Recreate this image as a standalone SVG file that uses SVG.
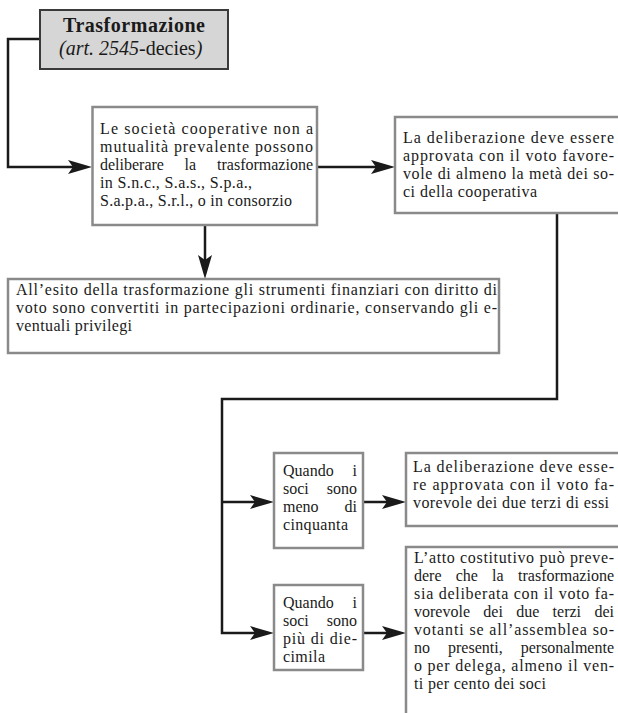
<svg xmlns="http://www.w3.org/2000/svg" width="618" height="713" viewBox="0 0 618 713">
<style>
text{font-family:"Liberation Serif","Times New Roman",serif;font-size:16px;fill:#1a1a1a}
.box{fill:#fff;stroke:#8a8a8a;stroke-width:2.5}
.title{fill:#d6d6d6;stroke:#3a3a3a;stroke-width:2}
.ttl{font-size:20px}
.b{font-weight:bold}
.i{font-style:italic}
.e{text-anchor:end}
.c{fill:none;stroke:#1a1a1a;stroke-width:2.5}
</style>
<defs>
<marker id="ah" markerWidth="24" markerHeight="14" refX="14" refY="7" orient="auto" markerUnits="userSpaceOnUse">
<path d="M0,0 L24,7 L0,14 L5,7 Z" fill="#1a1a1a"/>
</marker>
</defs>
<rect width="618" height="713" fill="#fff"/>

<g id="connectors">
<polyline class="c" points="40,39 8,39 8,167 82,167" marker-end="url(#ah)"/>
<line class="c" x1="317" y1="167" x2="385" y2="167" marker-end="url(#ah)"/>
<line class="c" x1="205" y1="225" x2="205" y2="269" marker-end="url(#ah)"/>
<polyline class="c" points="557,213 557,399 222,399 222,633 264,633" marker-end="url(#ah)"/>
<line class="c" x1="222" y1="502" x2="264" y2="502" marker-end="url(#ah)"/>
<line class="c" x1="363" y1="502" x2="396" y2="502" marker-end="url(#ah)"/>
<line class="c" x1="363" y1="633" x2="396" y2="633" marker-end="url(#ah)"/>
</g>

<g id="title">
<rect class="title" x="40" y="10" width="188" height="59"/>
<text class="ttl"><tspan class="b" x="63" y="32" textLength="142" lengthAdjust="spacing">Trasformazione</tspan><tspan class="i" x="59" y="55">(art. 2545-</tspan><tspan>decies</tspan><tspan class="i">)</tspan></text>
</g>

<g id="n1">
<rect class="box" x="92.5" y="107" width="224.5" height="118"/>
<text><tspan x="100" y="134" textLength="213" lengthAdjust="spacing">Le società cooperative non a</tspan><tspan x="100" y="152" textLength="213" lengthAdjust="spacing">mutualità prevalente possono</tspan><tspan x="100" y="170">deliberare</tspan><tspan x="184.5">la</tspan><tspan class="e" x="313">trasformazione</tspan><tspan x="100" y="188" textLength="152" lengthAdjust="spacing">in S.n.c., S.a.s., S.p.a.,</tspan><tspan x="100" y="206" textLength="192" lengthAdjust="spacing">S.a.p.a., S.r.l., o in consorzio</tspan></text>
</g>

<g id="n2">
<rect class="box" x="395" y="117" width="240" height="96"/>
<text><tspan x="403" y="143" textLength="211" lengthAdjust="spacing">La deliberazione deve essere</tspan><tspan x="403" y="161" textLength="211" lengthAdjust="spacing">approvata con il voto favore-</tspan><tspan x="403" y="179" textLength="211" lengthAdjust="spacing">vole di almeno la metà dei so-</tspan><tspan x="403" y="197" textLength="134" lengthAdjust="spacing">ci della cooperativa</tspan></text>
</g>

<g id="n3">
<rect class="box" x="8" y="279" width="491" height="74"/>
<text><tspan x="16" y="295" textLength="481" lengthAdjust="spacing">All’esito della trasformazione gli strumenti finanziari con diritto di</tspan><tspan x="16" y="313" textLength="481" lengthAdjust="spacing">voto sono convertiti in partecipazioni ordinarie, conservando gli e-</tspan><tspan x="16" y="331" textLength="116" lengthAdjust="spacing">ventuali privilegi</tspan></text>
</g>

<g id="n4">
<rect class="box" x="274" y="453" width="89" height="95"/>
<text><tspan x="283" y="476">Quando</tspan><tspan class="e" x="357">i</tspan><tspan x="283" y="494">soci</tspan><tspan class="e" x="357">sono</tspan><tspan x="283" y="512">meno</tspan><tspan class="e" x="357">di</tspan><tspan x="283" y="530" textLength="65" lengthAdjust="spacing">cinquanta</tspan></text>
</g>

<g id="n5">
<rect class="box" x="406" y="453" width="230" height="73"/>
<text><tspan x="413" y="472" textLength="201" lengthAdjust="spacing">La deliberazione deve esse-</tspan><tspan x="413" y="490" textLength="201" lengthAdjust="spacing">re approvata con il voto fa-</tspan><tspan x="413" y="508" textLength="196" lengthAdjust="spacing">vorevole dei due terzi di essi</tspan></text>
</g>

<g id="n6">
<rect class="box" x="274" y="585" width="89" height="85"/>
<text><tspan x="283" y="608">Quando</tspan><tspan class="e" x="357">i</tspan><tspan x="283" y="626">soci</tspan><tspan class="e" x="357">sono</tspan><tspan x="283" y="644" textLength="74" lengthAdjust="spacing">più di die-</tspan><tspan x="283" y="662" textLength="42" lengthAdjust="spacing">cimila</tspan></text>
</g>

<g id="n7">
<rect class="box" x="406" y="547" width="230" height="200"/>
<text><tspan x="414" y="563" textLength="200" lengthAdjust="spacing">L’atto costitutivo può preve-</tspan><tspan x="414" y="581">dere</tspan><tspan x="455.7">che</tspan><tspan x="492.1">la</tspan><tspan class="e" x="614">trasformazione</tspan><tspan x="414" y="599" textLength="200" lengthAdjust="spacing">sia deliberata con il voto fa-</tspan><tspan x="414" y="617">vorevole</tspan><tspan x="483.3">dei</tspan><tspan x="516.2">due</tspan><tspan x="552.6">terzi</tspan><tspan class="e" x="614">dei</tspan><tspan x="414" y="635" textLength="200" lengthAdjust="spacing">votanti se all’assemblea so-</tspan><tspan x="414" y="653">no</tspan><tspan x="448">presenti,</tspan><tspan class="e" x="614">personalmente</tspan><tspan x="414" y="671" textLength="200" lengthAdjust="spacing">o per delega, almeno il ven-</tspan><tspan x="414" y="689" textLength="132" lengthAdjust="spacing">ti per cento dei soci</tspan></text>
</g>
</svg>
